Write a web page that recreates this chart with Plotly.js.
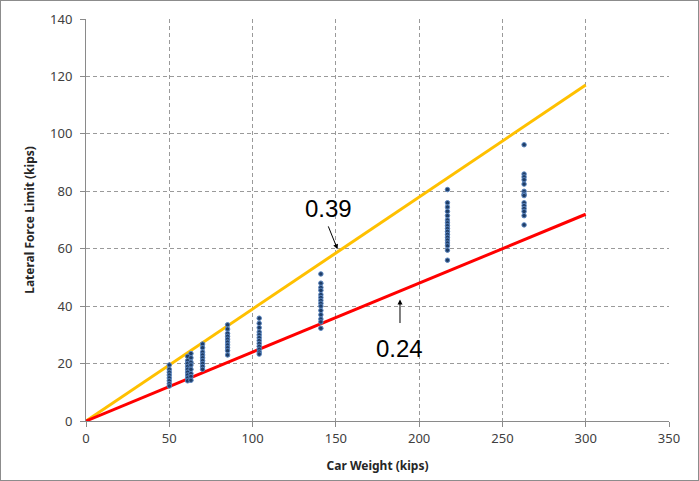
<!DOCTYPE html>
<html>
<head>
<meta charset="utf-8">
<script src="https://cdn.plot.ly/plotly-3.0.1.min.js"></script>
<style>
html,body{margin:0;padding:0;background:#fff;}
#wrap{position:relative;width:699px;height:481px;}
#chart{width:699px;height:481px;}
#frame{position:absolute;left:0;top:0;width:699px;height:481px;box-sizing:border-box;border:1px solid #8c8c8c;pointer-events:none;}
</style>
</head>
<body>
<div id="wrap"><div id="chart"></div><div id="frame"></div></div>
<script>
// Measured car weights (kips) and lateral force limits (kips)
const w50 = [19.5, 18, 17, 16, 15, 14, 13, 12.2];
const w61 = [22.5, 21, 20, 19, 18, 17, 16, 15, 14];
const w63 = [23.5, 22, 20.5, 19.5, 18, 16.5, 15.5, 14.2];
const w70 = [26.8, 25.5, 24, 23, 22, 21, 20, 19, 18];
const w85 = [33.5, 32, 30.5, 29.5, 28.5, 27.5, 26.5, 25.5, 24.5, 23];
const w104 = [35.8, 34, 32.5, 31, 30, 29, 28, 27, 26, 25, 24, 23.3];
const w141 = [51.2, 48, 46.5, 45.5, 44, 43, 42, 41, 40, 38.5, 37, 35.5, 34.5, 32.3];
const w217 = [80.6, 76, 74.5, 73, 71.5, 70, 69, 68, 67, 66, 65, 64, 63, 62, 61, 59.5, 56];
const w263 = [96.2, 86, 85, 84, 82.5, 80, 79, 78.5, 76, 75, 74, 73, 71.5, 68.3];
const weights = [50, 61, 63, 70, 85, 104, 141, 217, 263];
const forces = [w50, w61, w63, w70, w85, w104, w141, w217, w263];

// Limit lines
const lineX = [0, 300];
const upperRatio = 0.39;
const lowerRatio = 0.24;
const upperY = lineX.map(v => v * upperRatio);
const lowerY = lineX.map(v => v * lowerRatio);

const xTicks = [0, 50, 100, 150, 200, 250, 300, 350];
const yTicks = [0, 20, 40, 60, 80, 100, 120, 140];

const px = [], py = [];
weights.forEach((wt, i) => forces[i].forEach(f => { px.push(wt); py.push(f); }));

const traces = [
  {x: lineX, y: upperY, mode: 'lines', line: {color: '#FFC000', width: 3}, hoverinfo: 'none'},
  {x: lineX, y: lowerY, mode: 'lines', line: {color: '#FF0000', width: 3}, hoverinfo: 'none'},
  {x: px, y: py, mode: 'markers', type: 'scatter',
   marker: {size: 4.5, color: '#1f3d66', line: {color: '#5b86c0', width: 1}}}
];

const tickFont = {family: 'Noto Sans, Liberation Sans, sans-serif', size: 13, color: '#404040'};
const titleFont = {family: 'Noto Sans, Liberation Sans, sans-serif', size: 12, color: '#262626', weight: 'bold'};
const layout = {
  width: 699, height: 481,
  margin: {l: 86, r: 30, t: 19, b: 59.5},
  paper_bgcolor: '#fff', plot_bgcolor: '#fff',
  showlegend: false,
  xaxis: {
    range: [0, 350], tickvals: xTicks, ticktext: xTicks.map(String),
    showgrid: true, gridcolor: '#9a9a9a', griddash: '4px,3px', gridwidth: 1,
    zeroline: false, showline: true, linecolor: '#8a8a8a', linewidth: 1,
    ticks: 'outside', ticklen: 5, tickcolor: '#8a8a8a',
    tickfont: tickFont,
    title: {text: 'Car Weight (kips)', font: titleFont, standoff: 16}
  },
  yaxis: {
    range: [0, 140], tickvals: yTicks, ticktext: yTicks.map(String),
    showgrid: true, gridcolor: '#9a9a9a', griddash: '4px,3px', gridwidth: 1,
    zeroline: false, showline: true, linecolor: '#8a8a8a', linewidth: 1,
    ticks: 'outside', ticklen: 5, tickcolor: '#8a8a8a', ticklabelstandoff: 5,
    tickfont: tickFont,
    title: {text: 'Lateral Force Limit (kips)', font: titleFont, standoff: 12}
  },
  annotations: [
    {x: 151, y: 59.8, ax: 145.1, ay: 68.3, axref: 'x', ayref: 'y', xref: 'x', yref: 'y',
     showarrow: true, arrowhead: 2, arrowsize: 1, arrowwidth: 1, arrowcolor: '#000', text: ''},
    {x: 145.5, y: 74, xref: 'x', yref: 'y', text: '0.39', showarrow: false,
     font: {family: 'Liberation Sans, Arial, sans-serif', size: 24, color: '#000'}},
    {x: 188.5, y: 42.3, ax: 188.5, ay: 33.6, axref: 'x', ayref: 'y', xref: 'x', yref: 'y',
     showarrow: true, arrowhead: 2, arrowsize: 1, arrowwidth: 1, arrowcolor: '#000', text: ''},
    {x: 188.5, y: 25.4, xref: 'x', yref: 'y', text: '0.24', showarrow: false,
     font: {family: 'Liberation Sans, Arial, sans-serif', size: 24, color: '#000'}}
  ]
};

Plotly.newPlot('chart', traces, layout, {staticPlot: true});
</script>
</body>
</html>
